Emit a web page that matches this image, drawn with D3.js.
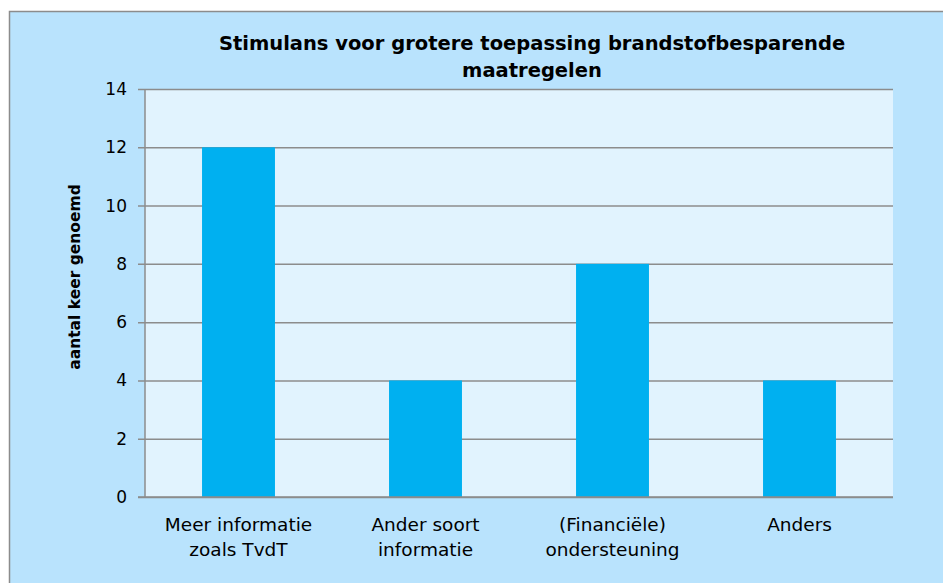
<!DOCTYPE html>
<html>
<head>
<meta charset="utf-8">
<script src="https://cdn.jsdelivr.net/npm/d3@7"></script>
<style>
  body { margin: 0; background: #fff; }
  text { font-family: "DejaVu Sans", sans-serif; fill: #000; }
</style>
</head>
<body>
<div id="chart"></div>
<script>
// data
var categories = [["Meer informatie", "zoals TvdT"], ["Ander soort", "informatie"], ["(Financiële)", "ondersteuning"], ["Anders"]];
var values = [12, 4, 8, 4];
var yTicks = [0, 2, 4, 6, 8, 10, 12, 14];
var titleLines = ["Stimulans voor grotere toepassing brandstofbesparende", "maatregelen"];
var yLabel = "aantal keer genoemd";

var W = 943, H = 583;
var margin = {top: 89, right: 50, bottom: 86, left: 145}
  , width = W - margin.left - margin.right
  , height = H - margin.top - margin.bottom;

var svg = d3.select("#chart").append("svg")
    .attr("width", W)
    .attr("height", H);

// outer chart box
svg.append("rect")
    .attr("x", 9.5).attr("y", 11.5)
    .attr("width", W).attr("height", H)
    .attr("fill", "#b9e3fd")
    .attr("stroke", "#8c8c8c")
    .attr("stroke-width", 1.5);

var g = svg.append("g")
    .attr("transform", "translate(" + margin.left + "," + margin.top + ")");

var xScale = d3.scaleBand()
    .domain(d3.range(categories.length))
    .range([0, width])
    .padding(0);

var yScale = d3.scaleLinear()
    .domain([0, 14])
    .range([height, 0]);

var barW = xScale.bandwidth() * 0.39;

// plot area
g.append("rect")
    .attr("width", width)
    .attr("height", height)
    .attr("fill", "#e1f3fe");

// grid lines + ticks
g.append("g")
    .attr("class", "y axis")
    .call(d3.axisLeft(yScale).tickValues(yTicks).tickSize(-width - 7).tickPadding(11).tickFormat(d3.format("d")))
    .call(function(a) {
      a.select(".domain").remove();
      a.selectAll(".tick line").attr("stroke", "#8c8c8c").attr("stroke-width", 1.5).attr("x1", -7).attr("x2", width);
      a.selectAll(".tick text").style("font-size", "17px").attr("x", -18);
    });

// left axis line
g.append("line")
    .attr("x1", 0).attr("x2", 0)
    .attr("y1", 0).attr("y2", height)
    .attr("stroke", "#8c8c8c").attr("stroke-width", 1.5);

// bars
g.selectAll(".bar")
    .data(values)
  .enter().append("rect")
    .attr("class", "bar")
    .attr("x", function(d, i) { return xScale(i) + (xScale.bandwidth() - barW) / 2; })
    .attr("y", function(d) { return yScale(d); })
    .attr("width", barW)
    .attr("height", function(d) { return height - yScale(d); })
    .attr("fill", "#00b0f0");

// bottom axis line
g.append("line")
    .attr("x1", -7).attr("x2", width)
    .attr("y1", height).attr("y2", height)
    .attr("stroke", "#8c8c8c").attr("stroke-width", 1.5);

// category labels
var lab = g.selectAll(".xlab")
    .data(categories)
  .enter().append("text")
    .attr("class", "xlab")
    .attr("text-anchor", "middle")
    .attr("transform", function(d, i) { return "translate(" + (xScale(i) + xScale.bandwidth() / 2) + "," + (height + 34) + ")"; })
    .style("font-size", "18.5px");
lab.selectAll("tspan")
    .data(function(d) { return d; })
  .enter().append("tspan")
    .attr("x", 0)
    .attr("y", function(d, i) { return i * 25; })
    .text(function(d) { return d; });

// title
svg.append("text")
    .attr("text-anchor", "middle")
    .attr("x", 532)
    .attr("y", 50)
    .style("font-size", "19.5px")
    .style("font-weight", "bold")
    .selectAll("tspan")
    .data(titleLines)
  .enter().append("tspan")
    .attr("x", 532)
    .attr("y", function(d, i) { return 50 + i * 27; })
    .text(function(d) { return d; });

// y label
svg.append("text")
    .attr("text-anchor", "middle")
    .attr("transform", "translate(80," + (margin.top + height / 2 - 16) + ") rotate(-90)")
    .style("font-size", "15.5px")
    .style("font-weight", "bold")
    .text(yLabel);
</script>
</body>
</html>
